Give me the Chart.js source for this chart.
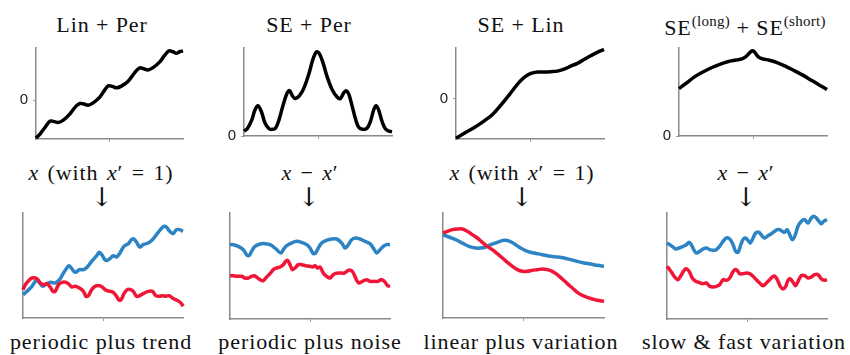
<!DOCTYPE html>
<html>
<head>
<meta charset="utf-8">
<script src="https://cdn.jsdelivr.net/npm/chart.js@4"></script>
<style>
body{margin:0;background:#fff;width:850px;height:355px;position:relative;overflow:hidden;font-family:"Liberation Serif",serif;color:#111}
.box{position:absolute}
.t{position:absolute;transform:translate(-50%,-50%);white-space:nowrap;font-size:22px;line-height:1;letter-spacing:0.9px}
.t i{font-style:italic}
.t sup{font-size:15px;vertical-align:9px;letter-spacing:0.3px}
.m{word-spacing:2px}
.arr{font-family:"DejaVu Serif",serif;font-size:26px;color:#111;letter-spacing:0}
</style>
</head>
<body>

<div class="t" style="left:102px;top:25px">Lin + Per</div>
<div class="t" style="left:309px;top:25px">SE + Per</div>
<div class="t" style="left:521px;top:25px">SE + Lin</div>
<div class="t" style="left:745px;top:26px">SE<sup>(long)</sup> + SE<sup>(short)</sup></div>

<div class="t m" style="left:101px;top:173px"><i>x</i> (with <i>x</i>′ = 1)</div>
<div class="t m" style="left:310px;top:173px"><i>x</i> − <i>x</i>′</div>
<div class="t m" style="left:522px;top:173px"><i>x</i> (with <i>x</i>′ = 1)</div>
<div class="t m" style="left:746px;top:173px"><i>x</i> − <i>x</i>′</div>

<div class="t arr" style="left:102px;top:197px">↓</div>
<div class="t arr" style="left:309px;top:197px">↓</div>
<div class="t arr" style="left:522px;top:197px">↓</div>
<div class="t arr" style="left:746px;top:197px">↓</div>

<div class="t" style="left:101px;top:342px">periodic plus trend</div>
<div class="t" style="left:310px;top:342px">periodic plus noise</div>
<div class="t" style="left:521px;top:342px">linear plus variation</div>
<div class="t" style="left:744px;top:342px">slow &amp; fast variation</div>

<div class="box" id="b1"><canvas id="c1"></canvas></div>
<div class="box" id="b2"><canvas id="c2"></canvas></div>
<div class="box" id="b3"><canvas id="c3"></canvas></div>
<div class="box" id="b4"><canvas id="c4"></canvas></div>
<div class="box" id="b5"><canvas id="c5"></canvas></div>
<div class="box" id="b6"><canvas id="c6"></canvas></div>
<div class="box" id="b7"><canvas id="c7"></canvas></div>
<div class="box" id="b8"><canvas id="c8"></canvas></div>

<script>
// ===== kernels (top row) =====
var linPerX = [0,0.27,0.61,0.95,1.18,1.52,1.86,2.31,2.71,2.99,3.26,3.55,3.89,4.34,4.68,4.91,5.20,5.48,5.81,6.27,6.72,7.06,7.33,7.62,7.96,8.42,8.76,9.05,9.32,9.55,9.77,10];
var linPerY = [-1.32,-1.18,-0.95,-0.73,-0.74,-0.78,-0.70,-0.48,-0.22,-0.12,-0.14,-0.18,-0.10,0.10,0.35,0.49,0.47,0.42,0.48,0.65,0.95,1.11,1.08,1.04,1.12,1.32,1.55,1.70,1.67,1.62,1.67,1.70];

var sePerX = [0,0.22,0.52,0.74,0.94,1.17,1.42,1.69,1.91,2.13,2.36,2.63,2.92,3.08,3.30,3.48,3.75,4.04,4.38,4.65,4.83,4.94,5.10,5.33,5.62,5.96,6.29,6.52,6.74,6.90,7.08,7.30,7.53,7.75,8.02,8.31,8.54,8.76,8.92,9.10,9.33,9.55,9.78,10];
var sePerY = [0.17,0.25,0.55,0.90,1.05,0.85,0.45,0.25,0.23,0.27,0.55,1.05,1.50,1.57,1.37,1.30,1.40,1.65,2.15,2.65,2.87,2.92,2.85,2.55,2.05,1.60,1.35,1.30,1.50,1.57,1.45,1.05,0.60,0.30,0.23,0.27,0.50,0.90,1.05,0.90,0.50,0.25,0.17,0.15];

var seLinX = [0,0.56,1.24,1.91,2.47,3.03,3.60,4.16,4.61,5.06,5.51,5.96,6.40,6.85,7.30,7.75,8.20,8.65,9.10,9.55,10];
var seLinY = [-1.37,-1.20,-1.00,-0.77,-0.55,-0.23,0.13,0.50,0.73,0.87,0.92,0.92,0.93,0.95,1.02,1.12,1.22,1.35,1.48,1.60,1.70];

var seSeX = [0,0.45,1.02,1.58,2.15,2.71,3.28,3.85,4.25,4.52,4.75,4.93,5.02,5.16,5.38,5.66,6.11,6.67,7.24,7.81,8.37,8.94,9.50,10];
var seSeY = [1.66,1.83,2.06,2.23,2.38,2.50,2.60,2.66,2.70,2.78,2.90,2.98,2.98,2.90,2.76,2.70,2.65,2.56,2.43,2.28,2.13,1.95,1.78,1.63];

// ===== samples (bottom row) =====
var trendBlueX = [0,0.25,0.56,0.83,1.04,1.24,1.49,1.74,2.01,2.28,2.53,2.74,2.88,3.05,3.26,3.53,3.78,4.02,4.29,4.61,4.77,4.92,5.12,5.27,5.48,5.64,5.85,6.06,6.31,6.58,6.78,6.93,7.10,7.30,7.51,7.82,8.09,8.34,8.59,8.80,8.96,9.17,9.38,9.59,9.79,10];
var trendBlueY = [0.70,0.80,0.95,1.13,1.05,0.95,1.03,1.07,1.05,1.15,1.35,1.50,1.57,1.48,1.37,1.45,1.45,1.53,1.70,1.87,1.97,1.90,1.75,1.73,1.80,1.87,1.83,1.95,2.15,2.23,2.35,2.37,2.27,2.13,2.20,2.25,2.35,2.50,2.65,2.75,2.73,2.60,2.53,2.65,2.65,2.60];
var trendRedX = [0,0.15,0.35,0.56,0.87,1.08,1.29,1.49,1.70,1.87,2.01,2.22,2.43,2.70,2.90,3.05,3.26,3.53,3.78,3.94,4.09,4.29,4.50,4.77,4.98,5.19,5.44,5.64,5.85,6.02,6.16,6.31,6.51,6.72,6.89,7.10,7.30,7.51,7.82,8.09,8.30,8.51,8.71,8.92,9.13,9.34,9.54,9.75,9.90,10];
var trendRedY = [0.85,1.00,1.12,1.20,1.18,1.05,1.00,1.03,0.93,0.80,0.80,1.00,1.07,1.07,1.00,0.93,0.95,0.90,0.80,0.65,0.67,0.85,0.95,0.97,0.92,0.83,0.80,0.77,0.65,0.53,0.57,0.73,0.85,0.85,0.80,0.65,0.67,0.73,0.80,0.80,0.67,0.65,0.67,0.65,0.67,0.60,0.55,0.50,0.43,0.35];

var noiseBlueX = [0,0.21,0.52,0.83,1.04,1.19,1.35,1.56,1.88,2.19,2.50,2.81,3.02,3.19,3.33,3.54,3.85,4.17,4.48,4.79,5.00,5.21,5.35,5.52,5.73,6.04,6.35,6.67,6.98,7.19,7.40,7.60,7.85,8.13,8.44,8.75,9.02,9.17,9.38,9.58,9.79,10];
var noiseBlueY = [2.23,2.23,2.18,2.08,1.93,1.90,2.03,2.18,2.25,2.26,2.23,2.13,2.03,1.98,2.08,2.20,2.28,2.33,2.30,2.23,2.13,1.96,1.98,2.13,2.28,2.36,2.40,2.40,2.28,2.13,2.23,2.38,2.43,2.40,2.33,2.26,2.08,1.98,2.08,2.18,2.23,2.23];
var noiseRedX = [0,0.21,0.42,0.73,0.94,1.15,1.35,1.52,1.67,1.88,2.08,2.29,2.50,2.71,2.92,3.13,3.33,3.48,3.60,3.75,3.90,4.06,4.27,4.48,4.73,5.00,5.15,5.31,5.48,5.63,5.83,6.04,6.25,6.40,6.56,6.88,7.15,7.40,7.56,7.71,7.92,8.06,8.27,8.54,8.75,9.02,9.23,9.44,9.58,9.73,9.85,10];
var noiseRedY = [1.30,1.30,1.28,1.28,1.23,1.23,1.28,1.30,1.25,1.18,1.15,1.26,1.36,1.48,1.53,1.56,1.63,1.73,1.76,1.63,1.48,1.53,1.63,1.63,1.60,1.58,1.56,1.60,1.53,1.56,1.38,1.28,1.23,1.30,1.36,1.38,1.38,1.46,1.46,1.38,1.16,1.08,1.13,1.18,1.13,1.13,1.13,1.18,1.16,1.08,1.00,0.98];

var varBlueX = [0,0.37,0.79,1.20,1.61,2.03,2.34,2.65,2.96,3.37,3.79,4.16,4.51,4.82,5.24,5.65,6.17,6.69,7.10,7.52,7.93,8.34,8.76,9.17,9.59,10];
var varBlueY = [2.50,2.43,2.35,2.25,2.15,2.10,2.10,2.13,2.20,2.27,2.33,2.30,2.20,2.10,2.00,1.95,1.90,1.85,1.83,1.80,1.75,1.70,1.65,1.62,1.58,1.55];
var varRedX = [0,0.27,0.58,0.89,1.20,1.51,1.82,2.13,2.44,2.75,3.06,3.37,3.69,4.00,4.31,4.62,4.93,5.24,5.55,5.86,6.17,6.48,6.79,7.10,7.41,7.72,8.03,8.34,8.65,8.96,9.28,9.59,10];
var varRedY = [2.55,2.60,2.65,2.67,2.67,2.60,2.50,2.40,2.27,2.15,2.05,1.93,1.80,1.67,1.55,1.45,1.40,1.40,1.43,1.45,1.47,1.45,1.40,1.30,1.17,1.03,0.90,0.77,0.68,0.62,0.57,0.53,0.50];

var fastBlueX = [0,0.17,0.38,0.54,0.75,1.00,1.21,1.38,1.52,1.67,1.83,2.04,2.25,2.46,2.67,2.88,3.08,3.29,3.50,3.71,3.92,4.13,4.29,4.44,4.58,4.75,4.92,5.06,5.21,5.38,5.54,5.75,5.96,6.10,6.31,6.52,6.73,6.88,7.04,7.21,7.35,7.50,7.67,7.83,7.98,8.19,8.40,8.60,8.81,9.02,9.17,9.33,9.50,9.65,9.79,10];
var fastBlueY = [2.28,2.23,2.16,2.10,2.13,2.18,2.23,2.30,2.23,2.08,1.98,2.03,2.10,2.13,2.08,2.06,2.08,2.18,2.33,2.43,2.40,2.23,2.03,2.00,2.18,2.38,2.43,2.36,2.28,2.43,2.58,2.60,2.48,2.43,2.50,2.56,2.63,2.68,2.68,2.63,2.60,2.68,2.53,2.38,2.48,2.78,2.93,2.98,2.88,3.03,3.08,3.03,2.93,2.86,2.93,2.98];
var fastRedX = [0,0.17,0.38,0.54,0.69,0.90,1.10,1.25,1.42,1.58,1.79,2.00,2.21,2.46,2.67,2.88,3.08,3.29,3.50,3.71,3.92,4.08,4.23,4.38,4.54,4.75,4.96,5.17,5.38,5.58,5.79,6.00,6.21,6.42,6.63,6.79,6.94,7.08,7.25,7.42,7.56,7.71,7.88,8.04,8.19,8.40,8.60,8.81,9.02,9.23,9.44,9.65,9.85,10];
var fastRedY = [1.58,1.48,1.33,1.23,1.18,1.33,1.48,1.50,1.40,1.23,1.13,1.10,1.06,1.08,0.98,0.96,0.98,1.03,1.18,1.16,1.23,1.38,1.48,1.46,1.36,1.36,1.38,1.36,1.28,1.18,1.08,1.00,1.08,1.18,1.28,1.26,1.13,0.98,0.90,0.98,1.16,1.20,1.10,1.00,1.13,1.30,1.30,1.23,1.26,1.33,1.33,1.20,1.16,1.18];

var BLUE = 'rgb(44,132,196)';
var RED = 'rgb(240,22,56)';
var BLACK = '#000';

function pts(xs, ys) {
    var out = [];
    for (var i = 0; i < xs.length; i++) out.push({x: xs[i], y: ys[i]});
    return out;
}

// one small panel; L,T,R,B = where the axes go on the page
function panel(n, L, T, R, B, ymin, ymax, zeroTick, lines) {
    var box = document.getElementById('b' + n);
    box.style.left = (L - 28) + 'px';
    box.style.top = (T - 6) + 'px';
    box.style.width = (R - L + 34) + 'px';
    box.style.height = (B - T + 14) + 'px';

    var sets = lines.map(function(l) {
        return {data: pts(l[0], l[1]), borderColor: l[2], borderWidth: 3.5,
                pointRadius: 0, tension: 0.35, fill: false, clip: false};
    });

    new Chart(document.getElementById('c' + n), {
        type: 'line',
        data: {datasets: sets},
        options: {
            responsive: true, maintainAspectRatio: false, animation: false,
            layout: {padding: {top: 6, right: 6, bottom: 0, left: 0}},
            plugins: {legend: {display: false}, tooltip: {enabled: false}},
            scales: {
                x: {
                    type: 'linear', min: 0, max: 10,
                    afterBuildTicks: function(s) { s.ticks = [{value: 5}]; },
                    afterFit: function(s) { s.height = 8; },
                    ticks: {display: false},
                    grid: {drawOnChartArea: false, tickLength: 3, color: '#999'},
                    border: {color: '#8a8a8a', width: 1.5}
                },
                y: {
                    min: ymin, max: ymax,
                    afterBuildTicks: function(s) { s.ticks = zeroTick ? [{value: 0}] : []; },
                    afterFit: function(s) { s.width = 28; },
                    ticks: {display: zeroTick, padding: 5, color: '#222',
                            font: {family: 'Liberation Sans', size: 15},
                            callback: function() { return '0'; }},
                    grid: {drawOnChartArea: false, tickLength: 3, color: '#999', drawTicks: zeroTick},
                    border: {color: '#8a8a8a', width: 1.5}
                }
            }
        }
    });
}

panel(1, 36, 40, 183, 145, -1.35, 1.8, true, [[linPerX, linPerY, BLACK]]);
panel(2, 244, 40, 392, 142, 0, 3.05, true, [[sePerX, sePerY, BLACK]]);
panel(3, 456, 40, 604, 145, -1.40, 1.75, true, [[seLinX, seLinY, BLACK]]);
panel(4, 679, 40, 827, 142, 0, 3.08, true, [[seSeX, seSeY, BLACK]]);

panel(5, 23, 213, 183, 318, 0, 3.15, false, [[trendRedX, trendRedY, RED], [trendBlueX, trendBlueY, BLUE]]);
panel(6, 230, 213, 390, 319, 0, 3.18, false, [[noiseRedX, noiseRedY, RED], [noiseBlueX, noiseBlueY, BLUE]]);
panel(7, 443, 213, 604, 318, 0, 3.15, false, [[varRedX, varRedY, RED], [varBlueX, varBlueY, BLUE]]);
panel(8, 667, 213, 827, 319, 0, 3.18, false, [[fastRedX, fastRedY, RED], [fastBlueX, fastBlueY, BLUE]]);
</script>
</body>
</html>
